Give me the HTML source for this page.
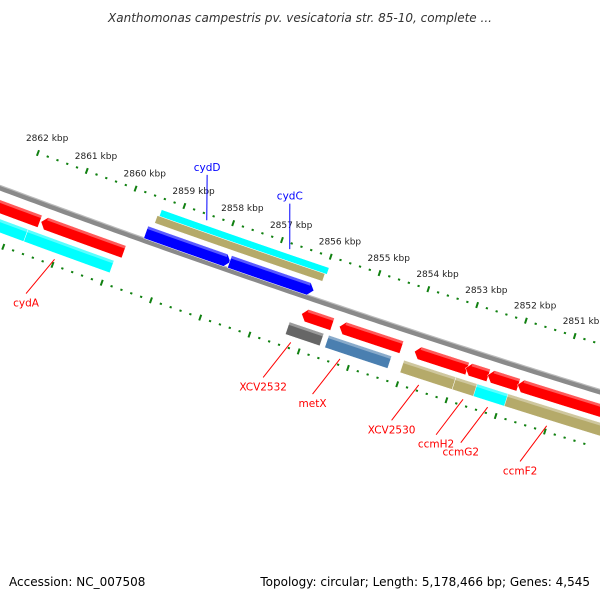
<!DOCTYPE html>
<html><head><meta charset="utf-8"><style>
html,body{margin:0;padding:0;background:#fff}
svg{display:block}
text{font-family:"DejaVu Sans","Liberation Sans",sans-serif}
</style></head><body>
<svg id="map" width="600" height="600" viewBox="0 0 600 600">
<text x="300" y="22" text-anchor="middle" font-size="12" font-style="italic" fill="#333">Xanthomonas campestris pv. vesicatoria str. 85-10, complete ...</text>
<g id="ticks"></g>
<g id="track"></g>
<g id="feats"></g>
<g id="labels"></g>
<text x="9" y="586" font-size="12" fill="#000">Accession: NC_007508</text>
<text x="590" y="586" font-size="12" fill="#000" text-anchor="end">Topology: circular; Length: 5,178,466 bp; Genes: 4,545</text>
</svg>
<script>
const tickKbp=[2862,2861,2860,2859,2858,2857,2856,2855,2854,2853,2852,2851];
const featStart=[2862.6,2861.49,2862.6,2861.67,2859.39,2859.43,2859.53,2857.82,2856.18,2856.35,2855.41,2855.55,2853.88,2854.02,2852.96,2852.84,2852.39,2851.78,2852.53];
const featEnd=[2861.51,2859.80,2861.67,2859.92,2855.96,2856.0,2857.80,2856.10,2855.55,2855.65,2854.14,2854.27,2852.80,2852.96,2849.9,2852.37,2851.76,2849.9,2851.90];
const featLane=[1,1,2,2,-3,-2,-1,-1,1,2,1,2,1,2,2,1,1,1,2];
const featColor=["#ff0000","#ff0000","#00ffff","#00ffff","#00ffff","#b5aa6a","#0000ff","#0000ff","#ff0000","#666666","#ff0000","#4a7fb0","#ff0000","#b5aa6a","#b5aa6a","#ff0000","#ff0000","#ff0000","#00ffff"];
const featArrow=[0,-1,0,0,0,0,1,1,-1,0,-1,0,-1,0,0,-1,-1,-1,0];
const labelText=["cydD","cydC","cydA","XCV2532","metX","XCV2530","ccmH2","ccmG2","ccmF2"];
const labelKbp=[2858.5,2856.8,2861.0,2856.2,2855.2,2853.6,2852.7,2852.2,2851.0];
const labelColor=["#0000ff","#0000ff","#ff0000","#ff0000","#ff0000","#ff0000","#ff0000","#ff0000","#ff0000"];

const NS="http://www.w3.org/2000/svg";
const B=0.3723,C=-0.0000537,Y0=188;
function kx(k){return 22+(2862-k)*49;}
function pt(x,off){const s=B+2*C*x,L=Math.hypot(1,s);return [x-s*off/L,Y0+B*x+C*x*x+off/L];}
const laneOff={1:[11,24],2:[29,42],"-1":[-15,-2],"-2":[-28,-20],"-3":[-35,-28]};
function mk(tag,parent,attrs){const e=document.createElementNS(NS,tag);for(const a in attrs)e.setAttribute(a,attrs[a]);parent.appendChild(e);return e;}

// backbone
const tr=document.getElementById('track');
let p1=[],p2=[];
for(let x=-10;x<=610;x+=5){p1.push(pt(x,-2.5));p2.unshift(pt(x,2.5));}
const bb=mk('polygon',tr,{points:p1.concat(p2).map(p=>p.join(',')).join(' '),fill:'#8a8a8a'});


let p3=[];for(let x=-10;x<=610;x+=5){p3.push(pt(x,-2.5));}
mk('polyline',tr,{points:p3.map(p=>p.join(',')).join(' '),fill:'none',stroke:'#bbb','stroke-width':1.2});

// ticks
const tk=document.getElementById('ticks');
for(let i=0;i<tickKbp.length;i++){
  for(let j=0;j<5;j++){
    const x=kx(tickKbp[i]-j*0.2);
    [-46,54].forEach(off=>{
      const [ax,ay]=pt(x,off-(j?1:3)),[bx,by]=pt(x,off+(j?1:3));
      const ln=mk('line',tk,{x1:ax,y1:ay,x2:bx,y2:by,stroke:'#108010','stroke-width':j?2.2:2});
      
      
    });
  }
  const x=kx(tickKbp[i]);const [lx,ly]=pt(x,-46);
  const t=mk('text',tk,{x:lx-12,y:ly-12,'font-size':9,fill:'#222'});
  t.textContent=tickKbp[i]+' kbp';
  
  
}

// features
const fg=document.getElementById('feats');
for(let i=0;i<featStart.length;i++){
  const [a,b]=laneOff[featLane[i]];const m=(a+b)/2;
  const x1=kx(featStart[i]),x2=kx(featEnd[i]);
  const xs=Math.min(x1,x2),xe=Math.max(x1,x2);
  const top=[],bot=[];let head=featArrow[i]?5:0;
  let s0=xs+(featArrow[i]<0?head:0),e0=xe-(featArrow[i]>0?head:0);
  const n=Math.max(2,Math.ceil((e0-s0)/5));
  for(let k=0;k<=n;k++){const x=s0+(e0-s0)*k/n;top.push(pt(x,a));bot.unshift(pt(x,b));}
  let pts=top.slice();
  if(featArrow[i]>0)pts.push(pt(xe,m));
  pts=pts.concat(bot);
  if(featArrow[i]<0)pts.push(pt(xs,m));
  const poly=mk('polygon',fg,{points:pts.map(p=>p.join(',')).join(' '),fill:featColor[i],stroke:'#fff','stroke-width':0.5});
  
  
  if(b-a>9){
    const hl=[];for(let k=0;k<=n;k++){hl.push(pt(s0+(e0-s0)*k/n,a));}
    for(let k=n;k>=0;k--){hl.push(pt(s0+(e0-s0)*k/n,a+3));}
    mk('polygon',fg,{points:hl.map(p=>p.join(',')).join(' '),fill:'#fff',opacity:0.35});
  }
}

// labels
const lg=document.getElementById('labels');
for(let i=0;i<labelText.length;i++){
  const x=kx(labelKbp[i]);const up=labelColor[i]==="#0000ff";
  const [ax,ay]=pt(x,up?-40:48),[bx,by]=pt(x-14,up?-83:90);
  const ln=mk('line',lg,{x1:ax,y1:ay,x2:bx,y2:by,stroke:labelColor[i],'stroke-width':1});
  
  
  const t=mk('text',lg,{x:bx,y:up?by-4:by+13,'font-size':10.5,fill:labelColor[i],'text-anchor':'middle'});
  t.textContent=labelText[i];
  
  
}
</script>
</body></html>
